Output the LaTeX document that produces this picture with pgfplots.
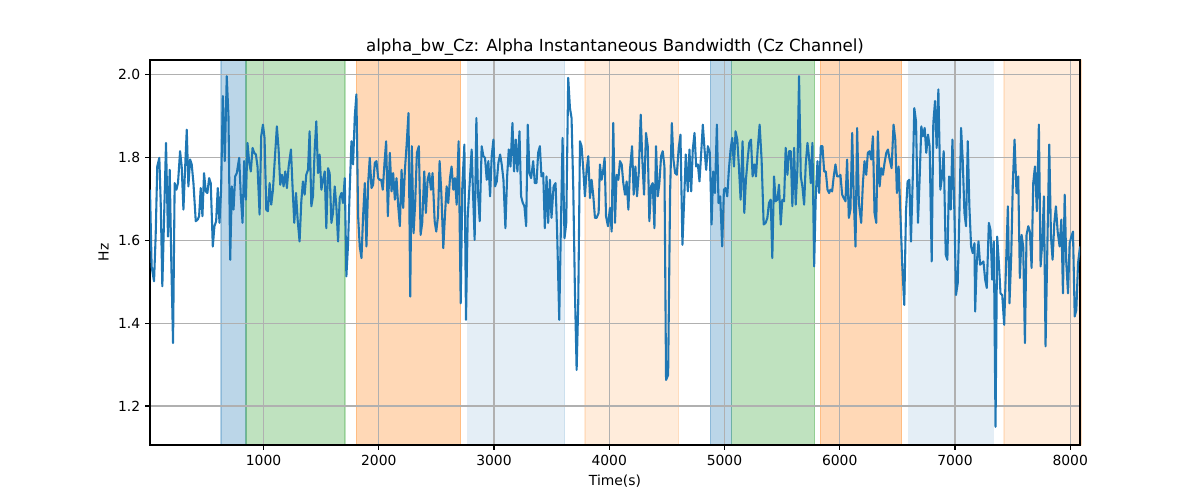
\documentclass[border=0pt]{standalone}
\usepackage{pgfplots}
\pgfplotsset{compat=1.18}
\usepackage{fontspec}
\setmainfont{DejaVu Sans}
\definecolor{tabblue}{HTML}{1F77B4}
\definecolor{tabgreen}{HTML}{2CA02C}
\definecolor{taborange}{HTML}{FF7F0E}
\begin{document}
\begin{tikzpicture}
\begin{axis}[
  set layers=standard,
  scale only axis,
  width=669.6pt, height=277.2pt,
  xmin=15, xmax=8085, ymin=1.106, ymax=2.035,
  xtick={1000,2000,3000,4000,5000,6000,7000,8000},
  ytick={1.2,1.4,1.6,1.8,2.0},
  yticklabel style={/pgf/number format/.cd,fixed,fixed zerofill,precision=1},
  xticklabel style={/pgf/number format/.cd,1000 sep={}},
  /pgf/number format/assume math mode=true,
  scaled x ticks=false,
  tick label style={font=\fontsize{10}{12}\selectfont, color=black},
  label style={font=\fontsize{10}{12}\selectfont},
  title style={font=\fontsize{12}{14}\selectfont, yshift=-6pt},
  title={alpha\_bw\_Cz: Alpha Instantaneous Bandwidth (Cz Channel)},
  xlabel={Time(s)}, ylabel={Hz},
  grid=major,
  major grid style={color=black!31, line width=0.8pt},
  axis line style={line width=0.8pt},
  tick style={line width=0.8pt, color=black},
  tick align=outside, major tick length=3.5pt,
  xtick pos=bottom, ytick pos=left,
  clip=true,
  span/.style={on layer=axis background, line width=1pt, draw=#1, fill=#1},
]
\addplot[span=tabblue, draw opacity=0.3, fill opacity=0.3] coordinates {(632,1.106)(847,1.106)(847,2.035)(632,2.035)} --cycle;
\addplot[span=tabgreen, draw opacity=0.3, fill opacity=0.3] coordinates {(847,1.106)(1708,1.106)(1708,2.035)(847,2.035)} --cycle;
\addplot[span=taborange, draw opacity=0.3, fill opacity=0.3] coordinates {(1806,1.106)(2711,1.106)(2711,2.035)(1806,2.035)} --cycle;
\addplot[span=tabblue, draw opacity=0.12, fill opacity=0.12] coordinates {(2771,1.106)(3612,1.106)(3612,2.035)(2771,2.035)} --cycle;
\addplot[span=taborange, draw opacity=0.15, fill opacity=0.15] coordinates {(3789,1.106)(4603,1.106)(4603,2.035)(3789,2.035)} --cycle;
\addplot[span=tabblue, draw opacity=0.3, fill opacity=0.3] coordinates {(4876,1.106)(5061,1.106)(5061,2.035)(4876,2.035)} --cycle;
\addplot[span=tabgreen, draw opacity=0.3, fill opacity=0.3] coordinates {(5061,1.106)(5783,1.106)(5783,2.035)(5061,2.035)} --cycle;
\addplot[span=taborange, draw opacity=0.3, fill opacity=0.3] coordinates {(5832,1.106)(6537,1.106)(6537,2.035)(5832,2.035)} --cycle;
\addplot[span=tabblue, draw opacity=0.12, fill opacity=0.12] coordinates {(6597,1.106)(7334,1.106)(7334,2.035)(6597,2.035)} --cycle;
\addplot[span=taborange, draw opacity=0.15, fill opacity=0.15] coordinates {(7424,1.106)(8100,1.106)(8100,2.035)(7424,2.035)} --cycle;
\addplot[color=tabblue, line width=1.5pt, mark=none, line join=round] coordinates {
(15,1.722)(29,1.537)(50,1.501)(64,1.609)(78,1.778)(96,1.799)(108,1.690)(122,1.489)(139,1.674)(154,1.835)(171,1.609)(186,1.770)(200,1.545)(215,1.352)(229,1.738)(244,1.722)(258,1.738)(276,1.815)(290,1.778)(305,1.674)(319,1.770)(334,1.867)(348,1.730)(363,1.795)(377,1.783)(392,1.738)(412,1.646)(429,1.650)(441,1.658)(455,1.726)(470,1.658)(484,1.762)(499,1.718)(513,1.714)(528,1.750)(542,1.738)(560,1.585)(574,1.634)(589,1.646)(603,1.726)(618,1.642)(632,1.722)(647,1.948)(664,1.791)(681,1.996)(696,1.899)(711,1.553)(725,1.730)(740,1.674)(754,1.754)(768,1.762)(789,1.799)(803,1.706)(818,1.642)(832,1.791)(847,1.698)(861,1.835)(876,1.787)(890,1.766)(905,1.823)(919,1.811)(934,1.807)(948,1.778)(966,1.662)(980,1.851)(995,1.879)(1009,1.847)(1024,1.674)(1038,1.670)(1053,1.738)(1067,1.686)(1082,1.722)(1096,1.787)(1116,1.875)(1131,1.819)(1145,1.734)(1160,1.758)(1174,1.730)(1189,1.766)(1203,1.726)(1218,1.778)(1238,1.819)(1253,1.722)(1267,1.642)(1282,1.714)(1296,1.650)(1313,1.597)(1328,1.694)(1342,1.742)(1357,1.710)(1371,1.758)(1386,1.770)(1400,1.863)(1415,1.682)(1429,1.706)(1444,1.819)(1458,1.887)(1473,1.762)(1487,1.807)(1502,1.722)(1517,1.746)(1531,1.766)(1545,1.629)(1560,1.774)(1574,1.762)(1589,1.642)(1603,1.666)(1618,1.730)(1632,1.682)(1647,1.597)(1661,1.702)(1676,1.714)(1690,1.690)(1705,1.750)(1719,1.513)(1734,1.593)(1748,1.722)(1763,1.839)(1777,1.783)(1792,1.899)(1806,1.952)(1821,1.658)(1835,1.585)(1850,1.557)(1864,1.658)(1879,1.738)(1893,1.585)(1908,1.738)(1922,1.799)(1937,1.726)(1951,1.734)(1966,1.787)(1980,1.791)(1995,1.750)
(2006,1.746)(2021,1.746)(2035,1.722)(2050,1.787)(2064,1.839)(2079,1.658)(2096,1.811)(2111,1.718)(2125,1.762)(2140,1.698)(2154,1.750)(2169,1.682)(2183,1.634)(2198,1.770)(2212,1.678)(2227,1.770)(2241,1.827)(2258,1.907)(2273,1.464)(2287,1.827)(2302,1.617)(2316,1.690)(2331,1.811)(2348,1.827)(2363,1.613)(2377,1.642)(2395,1.766)(2409,1.666)(2424,1.746)(2438,1.762)(2453,1.722)(2467,1.762)(2485,1.646)(2499,1.621)(2514,1.658)(2528,1.791)(2543,1.714)(2560,1.581)(2574,1.658)(2589,1.730)(2603,1.690)(2618,1.750)(2632,1.778)(2647,1.722)(2661,1.750)(2676,1.686)(2693,1.839)(2711,1.448)(2725,1.730)(2743,1.831)(2757,1.408)(2772,1.658)(2789,1.738)(2806,1.819)(2818,1.714)(2832,1.601)(2847,1.895)(2861,1.714)(2876,1.646)(2893,1.827)(2908,1.803)(2922,1.799)(2937,1.746)(2951,1.791)(2966,1.706)(2980,1.803)(2995,1.843)(3009,1.730)(3024,1.742)(3038,1.787)(3053,1.807)(3067,1.783)(3082,1.746)(3099,1.629)(3114,1.754)(3128,1.819)(3143,1.778)(3160,1.883)(3174,1.766)(3189,1.843)(3203,1.766)(3221,1.863)(3235,1.706)(3250,1.690)(3264,1.682)(3279,1.634)(3293,1.879)(3308,1.762)(3322,1.750)(3340,1.791)(3354,1.738)(3369,1.738)(3383,1.811)(3398,1.827)(3412,1.754)(3427,1.762)(3441,1.629)(3456,1.754)(3470,1.642)(3485,1.746)(3499,1.654)(3517,1.730)(3534,1.738)(3548,1.617)(3566,1.408)(3580,1.625)(3595,1.847)(3612,1.605)(3627,1.642)(3644,1.992)(3659,1.919)(3673,1.895)(3688,1.722)(3702,1.480)(3717,1.287)(3731,1.448)(3746,1.839)(3760,1.827)(3775,1.770)(3789,1.706)(3804,1.770)(3818,1.803)(3833,1.702)(3847,1.746)(3862,1.706)(3876,1.654)(3890,1.654)(3908,1.666)
(3919,1.783)(3934,1.746)(3948,1.770)(3960,1.799)(3972,1.658)(3989,1.634)(4006,1.678)(4021,1.621)(4035,1.883)(4050,1.642)(4064,1.758)(4079,1.746)(4093,1.791)(4108,1.783)(4122,1.738)(4137,1.710)(4151,1.742)(4166,1.674)(4180,1.770)(4198,1.827)(4212,1.710)(4227,1.778)(4241,1.706)(4256,1.762)(4273,1.903)(4287,1.795)(4302,1.710)(4319,1.859)(4334,1.827)(4348,1.646)(4363,1.730)(4377,1.738)(4392,1.629)(4406,1.827)(4421,1.706)(4435,1.738)(4450,1.803)(4464,1.815)(4479,1.778)(4493,1.263)(4511,1.275)(4528,1.714)(4543,1.883)(4557,1.795)(4572,1.762)(4586,1.758)(4603,1.823)(4618,1.855)(4635,1.589)(4650,1.698)(4664,1.807)(4682,1.718)(4696,1.819)(4711,1.718)(4725,1.819)(4740,1.859)(4754,1.778)(4769,1.783)(4783,1.742)(4798,1.811)(4812,1.879)(4827,1.819)(4841,1.770)(4856,1.827)(4873,1.811)(4888,1.638)(4902,1.766)(4917,1.714)(4934,1.879)(4948,1.690)(4963,1.706)(4980,1.585)(4995,1.722)(5009,1.726)(5024,1.706)(5038,1.770)(5053,1.819)(5067,1.847)(5082,1.778)(5096,1.863)(5111,1.843)(5125,1.778)(5140,1.698)(5157,1.839)(5172,1.666)(5186,1.746)(5201,1.795)(5215,1.835)(5230,1.843)(5244,1.754)(5259,1.783)(5273,1.754)(5288,1.819)(5305,1.879)(5322,1.795)(5340,1.638)(5357,1.642)(5372,1.654)(5386,1.690)(5401,1.698)(5415,1.557)(5430,1.754)(5444,1.694)(5459,1.698)(5473,1.734)(5488,1.638)(5502,1.698)(5517,1.694)(5531,1.823)(5546,1.758)(5560,1.815)(5575,1.815)(5589,1.682)(5604,1.823)(5618,1.686)(5633,1.774)(5647,1.996)(5662,1.754)(5676,1.730)(5691,1.686)(5705,1.783)(5720,1.835)(5734,1.799)(5749,1.738)(5763,1.835)(5778,1.537)(5792,1.706)(5807,1.791)(5821,1.714)(5836,1.827)(5850,1.827)(5865,1.766)(5879,1.766)(5894,1.722)(5908,1.714)
(5919,1.722)(5934,1.718)(5948,1.754)(5963,1.783)(5977,1.754)(5992,1.754)(6006,1.758)(6021,1.710)(6035,1.702)(6050,1.694)(6064,1.795)(6079,1.654)(6093,1.674)(6108,1.859)(6122,1.698)(6137,1.585)(6151,1.871)(6166,1.690)(6186,1.642)(6201,1.738)(6215,1.791)(6230,1.758)(6244,1.811)(6259,1.815)(6273,1.795)(6288,1.851)(6302,1.666)(6317,1.642)(6331,1.863)(6346,1.730)(6360,1.774)(6375,1.758)(6389,1.787)(6404,1.811)(6418,1.819)(6433,1.795)(6450,1.774)(6467,1.879)(6482,1.843)(6496,1.714)(6511,1.778)(6525,1.674)(6543,1.537)(6560,1.444)(6575,1.670)(6589,1.742)(6604,1.746)(6618,1.597)(6633,1.742)(6647,1.919)(6662,1.887)(6679,1.642)(6693,1.746)(6708,1.875)(6722,1.851)(6737,1.871)(6751,1.811)(6766,1.855)(6780,1.827)(6798,1.549)(6812,1.883)(6827,1.936)(6841,1.823)(6856,1.964)(6873,1.722)(6888,1.754)(6902,1.815)(6920,1.565)(6934,1.553)(6949,1.754)(6963,1.674)(6978,1.843)(6995,1.666)(7009,1.468)(7024,1.497)(7038,1.658)(7053,1.871)(7067,1.795)(7082,1.666)(7096,1.634)(7111,1.839)(7125,1.682)(7140,1.585)(7154,1.569)(7169,1.593)(7175,1.428)(7189,1.545)(7204,1.597)(7218,1.541)(7233,1.545)(7247,1.549)(7262,1.505)(7276,1.485)(7294,1.642)(7308,1.625)(7323,1.505)(7337,1.597)(7352,1.150)(7366,1.609)(7381,1.545)(7395,1.472)(7410,1.468)(7427,1.396)(7441,1.521)(7459,1.682)(7473,1.448)(7488,1.561)(7502,1.738)(7517,1.843)(7534,1.714)(7549,1.754)(7563,1.509)(7578,1.613)(7592,1.585)(7607,1.352)(7621,1.613)(7636,1.634)(7650,1.621)(7665,1.533)(7679,1.738)(7694,1.778)(7711,1.670)(7728,1.879)(7743,1.537)(7757,1.593)(7772,1.706)(7786,1.344)(7804,1.621)(7818,1.831)(7833,1.609)(7847,1.553)(7862,1.642)(7876,1.682)(7891,1.621)(7908,1.585)(7923,1.650)(7937,1.472)(7952,1.710)(7966,1.545)(7981,1.472)(7995,1.593)(8010,1.609)(8024,1.621)(8039,1.416)(8053,1.432)(8068,1.545)(8085,1.585)
};
\end{axis}
\pgfresetboundingbox
\path[use as bounding box] (current axis.south west) ++(-108pt,-39.6pt) rectangle ++(864pt,360pt);
\end{tikzpicture}
\end{document}
